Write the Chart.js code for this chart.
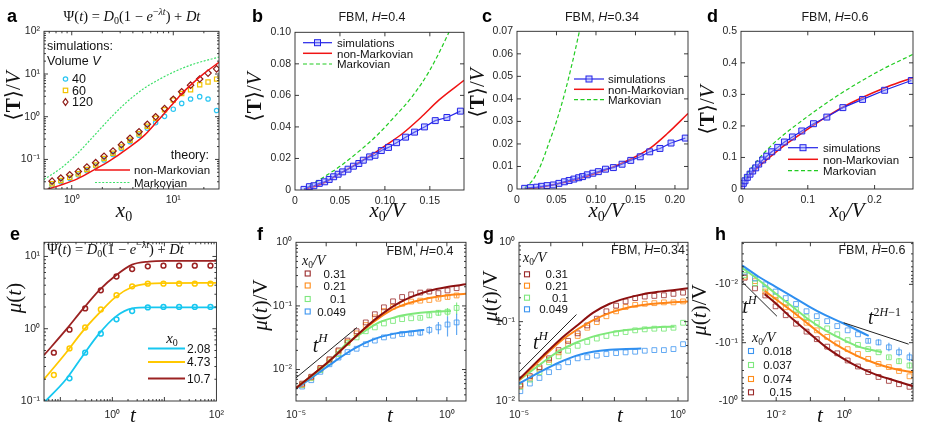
<!DOCTYPE html>
<html lang="en">
<head>
<meta charset="UTF-8">
<title>Mean first-passage time and mu(t) panels</title>
<script src="https://cdn.jsdelivr.net/npm/chart.js"></script>
<style>
  body { margin: 0; background: #fff; }
  #fig { position: relative; width: 926px; height: 430px; overflow: hidden; }
  #fig canvas { position: absolute; }
  #overlay { position: absolute; left: 0; top: 0; pointer-events: none; }
  .sans { font-family: 'Liberation Sans', Arial, sans-serif; }
  .ser { font-family: 'Liberation Serif', 'DejaVu Serif', serif; }
</style>
</head>
<body>
<div id="fig">
  <canvas id="pa"></canvas>
  <canvas id="pb"></canvas>
  <canvas id="pc"></canvas>
  <canvas id="pd"></canvas>
  <canvas id="pe"></canvas>
  <canvas id="pf"></canvas>
  <canvas id="pg"></canvas>
  <canvas id="ph"></canvas>

  <svg id="overlay" width="926" height="430" viewBox="0 0 926 430">
    <!-- panel letters -->
    <g class="sans" font-weight="bold" font-size="18" fill="#000">
      <text x="7" y="21.5">a</text>
      <text x="252" y="21.5">b</text>
      <text x="482" y="21.5">c</text>
      <text x="707" y="21.5">d</text>
      <text x="10" y="240">e</text>
      <text x="257" y="240">f</text>
      <text x="483" y="240">g</text>
      <text x="715" y="240">h</text>
    </g>

    <!-- titles -->
    <g class="sans" font-size="12.5" fill="#1a1a1a" text-anchor="middle">
      <text x="372" y="21">FBM, <tspan font-style="italic">H</tspan>=0.4</text>
      <text x="602" y="21">FBM, <tspan font-style="italic">H</tspan>=0.34</text>
      <text x="835" y="21">FBM, <tspan font-style="italic">H</tspan>=0.6</text>
      <text x="420" y="255">FBM, <tspan font-style="italic">H</tspan>=0.4</text>
      <text x="648" y="254">FBM, <tspan font-style="italic">H</tspan>=0.34</text>
      <text x="872" y="254">FBM, <tspan font-style="italic">H</tspan>=0.6</text>
    </g>
    <text class="ser" font-size="14.5" fill="#111" x="132" y="20.5" text-anchor="middle">Ψ(<tspan font-style="italic">t</tspan>) = <tspan font-style="italic">D</tspan><tspan font-size="10" dy="3">0</tspan><tspan dy="-3">(1 − </tspan><tspan font-style="italic">e</tspan><tspan font-size="10" dy="-6">−<tspan font-style="italic">λt</tspan></tspan><tspan dy="6">) + </tspan><tspan font-style="italic">Dt</tspan></text>
    <text class="ser" font-size="14.5" fill="#111" x="47" y="253.5">Ψ(<tspan font-style="italic">t</tspan>) = <tspan font-style="italic">D</tspan><tspan font-size="10" dy="3">0</tspan><tspan dy="-3">(1 − </tspan><tspan font-style="italic">e</tspan><tspan font-size="10" dy="-6">−<tspan font-style="italic">λt</tspan></tspan><tspan dy="6">) + </tspan><tspan font-style="italic">Dt</tspan></text>

    <!-- axis titles -->
    <g class="ser" font-size="21" fill="#111" text-anchor="middle">
      <text transform="translate(20,96) rotate(-90)">⟨<tspan font-weight="bold">T</tspan>⟩/<tspan font-style="italic">V</tspan></text>
      <text transform="translate(261,97) rotate(-90)">⟨<tspan font-weight="bold">T</tspan>⟩/<tspan font-style="italic">V</tspan></text>
      <text transform="translate(484,93) rotate(-90)">⟨<tspan font-weight="bold">T</tspan>⟩/<tspan font-style="italic">V</tspan></text>
      <text transform="translate(714,110) rotate(-90)">⟨<tspan font-weight="bold">T</tspan>⟩/<tspan font-style="italic">V</tspan></text>
      <text transform="translate(21,298) rotate(-90)"><tspan font-style="italic">μ</tspan>(<tspan font-style="italic">t</tspan>)</text>
      <text transform="translate(267,305) rotate(-90)"><tspan font-style="italic">μ</tspan>(<tspan font-style="italic">t</tspan>)/V</text>
      <text transform="translate(497,296) rotate(-90)"><tspan font-style="italic">μ</tspan>(<tspan font-style="italic">t</tspan>)/V</text>
      <text transform="translate(706,310) rotate(-90)"><tspan font-style="italic">μ</tspan>(<tspan font-style="italic">t</tspan>)/V</text>
      <text x="124" y="217"><tspan font-style="italic">x</tspan><tspan font-size="14" dy="4">0</tspan></text>
      <text x="387" y="217"><tspan font-style="italic">x</tspan><tspan font-size="14" dy="4">0</tspan><tspan dy="-4" font-style="italic">/V</tspan></text>
      <text x="606" y="217"><tspan font-style="italic">x</tspan><tspan font-size="14" dy="4">0</tspan><tspan dy="-4" font-style="italic">/V</tspan></text>
      <text x="847" y="217"><tspan font-style="italic">x</tspan><tspan font-size="14" dy="4">0</tspan><tspan dy="-4" font-style="italic">/V</tspan></text>
      <text x="133" y="422" font-style="italic">t</text>
      <text x="390" y="422" font-style="italic">t</text>
      <text x="620" y="422" font-style="italic">t</text>
      <text x="820" y="422" font-style="italic">t</text>
    </g>

    <!-- legend a -->
    <g class="sans" font-size="12.5" fill="#111">
      <text x="47" y="50">simulations:</text>
      <text x="47" y="65">Volume <tspan font-style="italic">V</tspan></text>
      <text x="72" y="83">40</text>
      <text x="72" y="94.5">60</text>
      <text x="72" y="106">120</text>
    </g>
    <g class="sans" font-size="11.5" fill="#111">
      <text x="209" y="159" text-anchor="end" font-size="12.5">theory:</text>
      <text x="134" y="174">non-Markovian</text>
      <text x="134" y="186.5">Markovian</text>
    </g>
    <circle cx="65.5" cy="79" r="2.2" fill="none" stroke="#2bc6f2" stroke-width="1.2"/>
    <rect x="63.3" y="88.2" width="4.4" height="4.4" fill="none" stroke="#f2c200" stroke-width="1.2"/>
    <polygon points="65.5,98.6 68,102 65.5,105.4 63,102" fill="none" stroke="#8e1b17" stroke-width="1.2"/>
    <line x1="95" y1="170" x2="130" y2="170" stroke="#f01414" stroke-width="1.5"/>
    <line x1="95" y1="182.5" x2="130" y2="182.5" stroke="#3ee06a" stroke-width="1.2" stroke-dasharray="2 1.6"/>

    <!-- legends b, c, d -->
    <g class="sans" font-size="11.5" fill="#111">
      <text x="337" y="47">simulations</text>
      <text x="337" y="57.5">non-Markovian</text>
      <text x="337" y="68">Markovian</text>
      <text x="608" y="83.3">simulations</text>
      <text x="608" y="93.6">non-Markovian</text>
      <text x="608" y="104">Markovian</text>
      <text x="823" y="152">simulations</text>
      <text x="823" y="163.6">non-Markovian</text>
      <text x="823" y="175">Markovian</text>
    </g>
    <g fill="none">
      <line x1="303" y1="42.7" x2="332" y2="42.7" stroke="#2323e8" stroke-width="1.2"/>
      <rect x="314.5" y="39.7" width="6" height="6" fill="rgba(150,160,255,0.45)" stroke="#2323e8"/>
      <line x1="303" y1="53.3" x2="332" y2="53.3" stroke="#f01414" stroke-width="1.5"/>
      <line x1="303" y1="64" x2="332" y2="64" stroke="#22cc22" stroke-width="1.2" stroke-dasharray="4 2.5"/>
      <line x1="574" y1="79" x2="604" y2="79" stroke="#2323e8" stroke-width="1.2"/>
      <rect x="586" y="76" width="6" height="6" fill="rgba(150,160,255,0.45)" stroke="#2323e8"/>
      <line x1="574" y1="89.3" x2="604" y2="89.3" stroke="#f01414" stroke-width="1.5"/>
      <line x1="574" y1="99.7" x2="604" y2="99.7" stroke="#22cc22" stroke-width="1.2" stroke-dasharray="4 2.5"/>
      <line x1="788" y1="147.7" x2="818" y2="147.7" stroke="#2323e8" stroke-width="1.2"/>
      <rect x="800" y="144.7" width="6" height="6" fill="rgba(150,160,255,0.45)" stroke="#2323e8"/>
      <line x1="788" y1="159.3" x2="818" y2="159.3" stroke="#f01414" stroke-width="1.5"/>
      <line x1="788" y1="170.7" x2="818" y2="170.7" stroke="#22cc22" stroke-width="1.2" stroke-dasharray="4 2.5"/>
    </g>

    <!-- legend e -->
    <text class="ser" font-size="15" fill="#111" x="172" y="343" text-anchor="middle"><tspan font-style="italic">x</tspan><tspan font-size="10" dy="3">0</tspan></text>
    <line x1="148" y1="348.5" x2="185" y2="348.5" stroke="#17c7f0" stroke-width="1.8"/>
    <line x1="148" y1="362" x2="185" y2="362" stroke="#ffc800" stroke-width="1.8"/>
    <line x1="148" y1="378.5" x2="185" y2="378.5" stroke="#9b2222" stroke-width="1.8"/>
    <g class="sans" font-size="12" fill="#111">
      <text x="187" y="352.5">2.08</text>
      <text x="187" y="366">4.73</text>
      <text x="187" y="382.5">10.7</text>
    </g>

    <!-- legends f, g, h -->
    <g class="ser" font-size="14" fill="#111">
      <text x="302" y="265"><tspan font-style="italic">x</tspan><tspan font-size="9.5" dy="2.5">0</tspan><tspan dy="-2.5" font-style="italic">/V</tspan></text>
      <text x="523" y="262"><tspan font-style="italic">x</tspan><tspan font-size="9.5" dy="2.5">0</tspan><tspan dy="-2.5" font-style="italic">/V</tspan></text>
      <text x="752" y="342"><tspan font-style="italic">x</tspan><tspan font-size="9.5" dy="2.5">0</tspan><tspan dy="-2.5" font-style="italic">/V</tspan></text>
    </g>
    <g fill="none" stroke-width="1.1">
      <rect x="305.2" y="271" width="5" height="5" stroke="#9a2a2a"/>
      <rect x="305.2" y="283" width="5" height="5" stroke="#ff8c1a"/>
      <rect x="305.2" y="296.5" width="5" height="5" stroke="#7ee87e"/>
      <rect x="305.2" y="309" width="5" height="5" stroke="#3d95f0"/>
      <rect x="524.5" y="271.8" width="5" height="5" stroke="#9a2a2a"/>
      <rect x="524.5" y="283.2" width="5" height="5" stroke="#ff8c1a"/>
      <rect x="524.5" y="295.2" width="5" height="5" stroke="#7ee87e"/>
      <rect x="524.5" y="306.8" width="5" height="5" stroke="#3d95f0"/>
      <rect x="748.5" y="348.5" width="5" height="5" stroke="#3d95f0"/>
      <rect x="748.5" y="362.5" width="5" height="5" stroke="#7ee87e"/>
      <rect x="748.5" y="376.5" width="5" height="5" stroke="#ff8c1a"/>
      <rect x="748.5" y="389.8" width="5" height="5" stroke="#9a2a2a"/>
    </g>
    <g class="sans" font-size="11.5" fill="#111" text-anchor="end">
      <text x="346" y="277.5">0.31</text>
      <text x="346" y="289.5">0.21</text>
      <text x="346" y="303">0.1</text>
      <text x="346" y="315.5">0.049</text>
      <text x="568" y="278.3">0.31</text>
      <text x="568" y="289.7">0.21</text>
      <text x="568" y="301.7">0.1</text>
      <text x="568" y="313.3">0.049</text>
      <text x="792" y="355">0.018</text>
      <text x="792" y="369">0.037</text>
      <text x="792" y="383">0.074</text>
      <text x="792" y="396.3">0.15</text>
    </g>

    <!-- power-law labels -->
    <g class="ser" font-size="20" fill="#111" font-style="italic">
      <text x="312.7" y="351.7">t<tspan font-size="13" dy="-10">H</tspan></text>
      <text x="533" y="349">t<tspan font-size="13" dy="-9">H</tspan></text>
      <text x="742.5" y="313">t<tspan font-size="12" dy="-9">H</tspan></text>
      <text x="868" y="324">t<tspan font-size="12" dy="-8"><tspan font-style="normal">2</tspan>H<tspan font-style="normal">−1</tspan></tspan></text>
    </g>
  </svg>
</div>

<script>
  // ---------- panel a: <T>/V against x0 (log-log) ----------
  var aX = [0.64, 0.78, 0.955, 1.16, 1.41, 1.72, 2.08, 2.55, 3.08, 3.75, 4.6, 5.55, 6.7, 8.2, 10.0, 12.1, 14.8, 18.2, 22, 26.7];
  var aV40 = [0.025, 0.03, 0.036, 0.043, 0.054, 0.07, 0.097, 0.13, 0.18, 0.26, 0.37, 0.54, 0.72, 1.02, 1.5, 2.05, 2.6, 2.95, 2.6, 1.4];
  var aV60 = [0.027, 0.032, 0.038, 0.046, 0.058, 0.074, 0.105, 0.14, 0.195, 0.28, 0.4, 0.6, 0.92, 1.45, 2.45, 3.5, 4.3, 5.6, 6.5, 7.6];
  var aV120 = [0.031, 0.0367, 0.0438, 0.052, 0.0667, 0.084, 0.119, 0.158, 0.22, 0.313, 0.445, 0.667, 1.0, 1.55, 2.57, 3.85, 5.48, 7.65, 10.5, 13.2];
  var aNonMarkovX = [0.55, 0.6, 0.78, 1.135, 1.66, 2.42, 3.53, 5.15, 6.98, 9.4, 11.8, 14.8, 20, 28.2];
  var aNonMarkov = [0.019, 0.0206, 0.025, 0.035, 0.057, 0.096, 0.179, 0.36, 0.79, 1.75, 3.24, 5.48, 10.2, 18.8];
  var aMarkovX = [0.533, 0.78, 1.135, 1.66, 2.42, 3.53, 5.15, 7.5, 10.9, 16, 28.2];
  var aMarkov = [0.034, 0.062, 0.137, 0.36, 0.95, 2.27, 4.6, 7.8, 12.1, 17.2, 25];

  // ---------- panel b: FBM H=0.4 ----------
  var bX = [0.010, 0.016, 0.021, 0.027, 0.033, 0.038, 0.043, 0.048, 0.053, 0.059, 0.065, 0.071, 0.076, 0.083, 0.089, 0.096, 0.104, 0.113, 0.123, 0.133, 0.144, 0.156, 0.169, 0.184];
  var bSim = [0.0004, 0.0021, 0.0027, 0.0042, 0.0052, 0.0067, 0.0084, 0.010, 0.0115, 0.0132, 0.0151, 0.0168, 0.0189, 0.021, 0.022, 0.025, 0.027, 0.030, 0.0335, 0.0367, 0.040, 0.044, 0.046, 0.050];
  var bTheoryX = [0.01, 0.03, 0.05, 0.07, 0.09, 0.1, 0.12, 0.14, 0.16, 0.188];
  var bNonMarkov = [0.0002, 0.004, 0.0105, 0.017, 0.024, 0.028, 0.036, 0.046, 0.057, 0.0695];
  var bMarkovX = [0.01, 0.03, 0.05, 0.07, 0.09, 0.11, 0.13, 0.15, 0.17, 0.175];
  var bMarkov = [0.0005, 0.0075, 0.015, 0.024, 0.034, 0.046, 0.059, 0.076, 0.0985, 0.105];

  // ---------- panel c: FBM H=0.34 ----------
  var cX = [0.0097, 0.017, 0.025, 0.031, 0.038, 0.046, 0.053, 0.060, 0.066, 0.072, 0.078, 0.083, 0.089, 0.096, 0.103, 0.112, 0.122, 0.133, 0.144, 0.156, 0.168, 0.181, 0.195, 0.213];
  var cSim = [0.0003, 0.0006, 0.0008, 0.0012, 0.0015, 0.0018, 0.0025, 0.0032, 0.0038, 0.0044, 0.005, 0.0055, 0.0063, 0.007, 0.0077, 0.0088, 0.0095, 0.011, 0.0127, 0.0143, 0.0165, 0.018, 0.0204, 0.0226];
  var cTheoryX = [0.01, 0.03, 0.05, 0.07, 0.09, 0.11, 0.13, 0.15, 0.17, 0.19, 0.2165];
  var cNonMarkov = [0.0001, 0.0008, 0.0022, 0.0038, 0.0058, 0.0082, 0.011, 0.0143, 0.0185, 0.0245, 0.0335];
  var cMarkovX = [0.01, 0.02, 0.03, 0.04, 0.05, 0.06, 0.07, 0.079, 0.085];
  var cMarkov = [0.0005, 0.004, 0.0105, 0.02, 0.03, 0.042, 0.056, 0.07, 0.08];

  // ---------- panel d: FBM H=0.6 ----------
  var dX = [0.001, 0.0035, 0.006, 0.0095, 0.0135, 0.0175, 0.022, 0.0265, 0.0325, 0.0385, 0.046, 0.055, 0.065, 0.077, 0.091, 0.1085, 0.1285, 0.1525, 0.182, 0.215, 0.255];
  var dSim = [0.0095, 0.018, 0.026, 0.037, 0.047, 0.057, 0.067, 0.079, 0.092, 0.104, 0.118, 0.132, 0.149, 0.165, 0.184, 0.207, 0.228, 0.258, 0.284, 0.313, 0.344];
  var dTheoryX = [0.001, 0.005, 0.01, 0.02, 0.03, 0.05, 0.07, 0.1, 0.13, 0.16, 0.19, 0.22, 0.2575];
  var dNonMarkov = [0.005, 0.022, 0.036, 0.058, 0.078, 0.113, 0.146, 0.19, 0.232, 0.268, 0.298, 0.325, 0.353];
  var dMarkovX = [0.001, 0.005, 0.0135, 0.0285, 0.0485, 0.0985, 0.149, 0.2085, 0.2575];
  var dMarkov = [0.012, 0.035, 0.06, 0.1, 0.144, 0.228, 0.302, 0.376, 0.427];

  // ---------- panel e: mu(t), exponential kernel ----------
  var eX = [0.075, 0.15, 0.3, 0.6, 1.2, 2.4, 4.8, 9.6, 19.2, 38.4, 76.8];
  var eSim208 = [null, 0.206, 0.466, 0.855, 1.35, 1.76, 1.97, 2.0, 2.0, 2.0, 2.0];
  var eSim473 = [0.229, 0.534, 1.04, 1.85, 2.91, 3.86, 4.2, 4.2, 4.2, 4.2, 4.2];
  var eSim107 = [0.466, 0.97, 1.91, 3.4, 5.28, 6.7, 7.3, 7.45, 7.45, 7.45, 7.45];
  var eLineX = [0.0485, 0.129, 0.268, 0.557, 1.16, 2.4, 5.0, 10.4, 100];
  var eLine208 = [0.095, 0.2, 0.42, 0.855, 1.47, 1.91, 1.97, 1.97, 1.97];
  var eLine473 = [0.2, 0.466, 0.92, 1.64, 2.76, 3.78, 4.2, 4.28, 4.3];
  var eLine107 = [0.43, 0.97, 1.85, 3.4, 5.44, 7.7, 8.5, 8.7, 8.7];

  // ---------- panel f: mu(t)/V, FBM H=0.4 ----------
  var fX = [1.6e-5, 3.2e-5, 6.4e-5, 1.28e-4, 2.56e-4, 5.1e-4, 1.02e-3, 2.05e-3, 4.1e-3, 8.2e-3, 0.0164, 0.0328, 0.0655, 0.131, 0.262, 0.524, 1.05, 2.1];
  var fSim031 = [0.006, 0.0077, 0.0106, 0.0145, 0.02, 0.0285, 0.04, 0.055, 0.074, 0.095, 0.118, 0.138, 0.152, 0.162, 0.168, 0.159, 0.175, 0.19];
  var fSim021 = [0.0058, 0.0075, 0.0103, 0.014, 0.0193, 0.027, 0.037, 0.05, 0.066, 0.083, 0.097, 0.108, 0.117, 0.121, 0.124, 0.13, 0.138, 0.146];
  var fSim010 = [0.0057, 0.0073, 0.0098, 0.013, 0.0175, 0.026, 0.032, 0.04, 0.046, 0.053, 0.058, 0.062, 0.064, 0.065, 0.071, 0.078, 0.081, 0.093];
  var fSim049 = [0.0054, 0.0068, 0.0092, 0.0121, 0.0154, 0.0188, 0.0212, 0.025, 0.0285, 0.032, 0.034, 0.036, 0.037, 0.038, 0.042, 0.046, 0.051, 0.055];
  var fErr021 = [0, 0, 0, 0, 0, 0, 0, 0, 0, 0, 0, 0, 0, 0, 0, 0.006, 0.01, 0.01];
  var fErr010 = [0, 0, 0, 0, 0, 0, 0, 0, 0, 0, 0, 0, 0, 0.004, 0.006, 0.008, 0.012, 0.02];
  var fErr049 = [0, 0, 0, 0, 0, 0, 0, 0, 0, 0, 0, 0.002, 0.003, 0.004, 0.006, 0.01, 0.018, 0.02];
  var fLineX = [1e-5, 1.27e-4, 1.61e-3, 5.7e-3, 0.0205, 0.073, 0.26, 0.93, 4.5];
  var fLine031 = [0.0051, 0.0136, 0.0416, 0.069, 0.105, 0.141, 0.173, 0.197, 0.219];
  var fLine021 = [0.0051, 0.0136, 0.041, 0.065, 0.093, 0.115, 0.133, 0.146, 0.155];
  var fLine010X = [1e-5, 1.27e-4, 4.5e-4, 1.61e-3, 5.7e-3, 0.0205, 0.073, 0.26, 1.36];
  var fLine010 = [0.0051, 0.0134, 0.025, 0.038, 0.055, 0.067, 0.075, 0.08, 0.083];
  var fLine049X = [1e-5, 1.27e-4, 4.5e-4, 1.61e-3, 5.7e-3, 0.0205, 0.073, 0.178];
  var fLine049 = [0.005, 0.0117, 0.0177, 0.025, 0.032, 0.037, 0.040, 0.042];
  var fGuideX = [1e-5, 1.05e-3];
  var fGuide = [0.0074, 0.0458];

  // ---------- panel g: mu(t)/V, FBM H=0.34 ----------
  var gX = [1.1e-5, 2.2e-5, 4.4e-5, 8.8e-5, 1.76e-4, 3.5e-4, 7e-4, 1.4e-3, 2.8e-3, 5.6e-3, 0.0113, 0.0225, 0.045, 0.09, 0.18, 0.36, 0.72, 1.44];
  var gSim031 = [0.0161, 0.0206, 0.0267, 0.0345, 0.0438, 0.0573, 0.0713, 0.0896, 0.109, 0.135, 0.159, 0.18, 0.198, 0.207, 0.211, 0.215, 0.224, 0.232];
  var gSim021 = [0.0155, 0.0197, 0.0255, 0.033, 0.041, 0.052, 0.066, 0.0838, 0.0986, 0.117, 0.135, 0.153, 0.163, 0.168, 0.171, 0.175, 0.175, 0.18];
  var gSim010 = [0.0151, 0.0186, 0.0231, 0.0308, 0.0366, 0.043, 0.0496, 0.0556, 0.0612, 0.066, 0.0713, 0.074, 0.0777, 0.08, 0.0815, 0.0815, 0.0838, 0.0968];
  var gSim049 = [0.0133, 0.0166, 0.0195, 0.0231, 0.0267, 0.0308, 0.0345, 0.0356, 0.0373, 0.0391, 0.0402, 0.041, 0.0418, 0.043, 0.0438, 0.0438, 0.0451, 0.052];
  var gLineX = [1e-5, 5.7e-5, 1.9e-4, 6.4e-4, 2.1e-3, 7.1e-3, 0.0237, 0.079, 0.265, 2.06];
  var gLine031 = [0.0188, 0.0373, 0.0589, 0.088, 0.129, 0.168, 0.198, 0.222, 0.239, 0.263];
  var gLine021 = [0.0182, 0.0356, 0.0556, 0.0784, 0.104, 0.129, 0.149, 0.162, 0.171, 0.18];
  var gLine010X = [1e-5, 5.7e-5, 1.9e-4, 6.4e-4, 2.1e-3, 7.1e-3, 0.0237, 0.079, 0.265, 0.785];
  var gLine010 = [0.0182, 0.0308, 0.043, 0.0546, 0.0648, 0.0727, 0.0784, 0.0822, 0.0855, 0.0864];
  var gLine049X = [1e-5, 5.7e-5, 1.9e-4, 6.4e-4, 2.1e-3, 7.1e-3, 0.0237, 0.0703];
  var gLine049 = [0.0166, 0.0243, 0.0308, 0.0373, 0.0418, 0.0442, 0.0451, 0.046];
  var gGuideX = [1e-5, 6.4e-4];
  var gGuide = [0.0231, 0.123];

  // ---------- panel h: mu(t)/V, FBM H=0.6 (negative values) ----------
  var hX = [1.2e-3, 2.4e-3, 4.8e-3, 9.6e-3, 0.019, 0.038, 0.077, 0.154, 0.31, 0.61, 1.23, 2.46, 4.9, 9.8, 19.7, 39, 79];
  var hSim018 = [-0.0061, -0.0079, -0.01, -0.0133, -0.0172, -0.0217, -0.0289, -0.0351, -0.0427, -0.0519, -0.0614, -0.0718, -0.093, -0.099, -0.12, -0.146, -0.178];
  var hSim037 = [-0.0069, -0.0096, -0.0117, -0.0161, -0.0209, -0.0271, -0.0365, -0.0455, -0.0568, -0.0717, -0.0905, -0.109, -0.129, -0.146, -0.178, -0.208, -0.246];
  var hSim074 = [-0.0074, -0.0088, -0.0133, -0.0184, -0.0247, -0.0338, -0.0455, -0.0614, -0.0795, -0.103, -0.129, -0.156, -0.19, -0.231, -0.262, -0.306, -0.377];
  var hSim15 = [-0.0077, -0.0117, -0.0155, -0.0238, -0.0338, -0.0473, -0.0646, -0.0871, -0.117, -0.152, -0.202, -0.256, -0.319, -0.387, -0.452, -0.515, -0.571];
  var hErr018 = [0, 0, 0, 0, 0, 0, 0, 0, 0, 0, 0, 0, 0.008, 0.012, 0.02, 0.025, 0.03];
  var hErr037 = [0, 0, 0, 0, 0, 0, 0, 0, 0, 0, 0, 0, 0, 0, 0.012, 0.025, 0.03];
  var hLine018X = [1e-3, 3.07e-3, 9.4e-3, 0.029, 0.089, 0.273, 0.84, 5.06];
  var hLine018 = [-0.0047, -0.0074, -0.0109, -0.0161, -0.0238, -0.0338, -0.0455, -0.0766];
  var hLine037X = [1e-3, 3.07e-3, 9.4e-3, 0.029, 0.089, 0.273, 0.84, 2.58, 12.4];
  var hLine037 = [-0.0052, -0.0084, -0.0142, -0.0238, -0.04, -0.0614, -0.0871, -0.117, -0.146];
  var hLineLateX = [4.6e-3, 9.4e-3, 0.029, 0.089, 0.273, 0.84, 2.58, 7.9, 27.2, 100];
  var hLine074 = [-0.0129, -0.0177, -0.0289, -0.0486, -0.0816, -0.124, -0.173, -0.225, -0.28, -0.322];
  var hLine15 = [-0.0147, -0.0209, -0.0385, -0.0672, -0.117, -0.182, -0.262, -0.349, -0.441, -0.56];
  var hGuideEarlyX = [1e-3, 0.0105];
  var hGuideEarly = [-0.009, -0.0352];
  var hGuideLateX = [0.94, 74.6];
  var hGuideLate = [-0.0455, -0.106];

  // ---------- shared look ----------
  var INK = '#262626';
  var TICK_FONT = {family: "'Liberation Sans', Arial, sans-serif", size: 10.5};
  var PAD = {l: 40, t: 8, r: 14, b: 24};
  var RED = '#f01414', BLUE = '#2323e8', GREEN_D = '#22cc22';
  var C_BROWN = '#8c1010', C_ORANGE = '#ff8516', C_GREEN = '#7fe87a', C_BLUE = '#2f8ff0';

  var SUP = {'-': '⁻', '0': '⁰', '1': '¹', '2': '²', '3': '³', '4': '⁴', '5': '⁵', '6': '⁶', '7': '⁷', '8': '⁸', '9': '⁹'};
  function pow10(e) {
    return '10' + String(e).split('').map(function (c) { return SUP[c]; }).join('');
  }

  function logTicks(min, max, minor) {
    var out = [];
    for (var e = Math.floor(Math.log10(min)); e <= Math.ceil(Math.log10(max)); e++) {
      for (var k = 1; k <= (minor ? 9 : 1); k++) {
        var v = k * Math.pow(10, e);
        if (v >= min * 0.9999 && v <= max * 1.0001) out.push({value: v, major: k === 1});
      }
    }
    return out;
  }

  function fitTo(isX) {
    return function (s) { if (isX) s.height = PAD.b; else s.width = PAD.l; };
  }

  // gap between axis line and tick labels: x labels in the lower row sit a bit lower
  function gap(isX, lowRow) { return isX ? (lowRow ? 8 : 5) : 4; }

  function logAxis(isX, min, max, labelled, minor, neg, reverse, lowRow) {
    return {
      type: 'logarithmic', min: min, max: max, reverse: !!reverse,
      grid: {display: false, drawTicks: false}, border: {display: false},
      afterBuildTicks: function (s) { s.ticks = logTicks(min, max, minor); },
      afterFit: fitTo(isX),
      ticks: {
        autoSkip: false, maxRotation: 0, padding: gap(isX, lowRow), color: INK, font: TICK_FONT,
        callback: function (v) {
          var e = Math.round(Math.log10(v));
          if (Math.abs(v / Math.pow(10, e) - 1) > 1e-6 || labelled.indexOf(e) < 0) return '';
          return (neg ? '-' : '') + pow10(e);
        }
      }
    };
  }

  function linAxis(isX, min, max, step) {
    return {
      type: 'linear', min: min, max: max,
      grid: {display: false, drawTicks: false}, border: {display: false},
      afterFit: fitTo(isX),
      ticks: {stepSize: step, includeBounds: false, autoSkip: false, maxRotation: 0,
              padding: gap(isX, false), color: INK, font: TICK_FONT}
    };
  }

  // box around the plot with inward ticks on all four sides (MATLAB style), plus error bars
  var frame = {
    id: 'frame',
    afterDatasetsDraw: function (chart) {
      var ctx = chart.ctx, a = chart.chartArea, sx = chart.scales.x, sy = chart.scales.y;
      ctx.save();
      chart.data.datasets.forEach(function (ds) {
        if (!ds.errors) return;
        ctx.strokeStyle = ds.borderColor;
        ctx.lineWidth = 1.2;
        ctx.beginPath();
        ds.data.forEach(function (p, j) {
          var e = ds.errors[j];
          if (!e) return;
          var px = sx.getPixelForValue(p.x);
          ctx.moveTo(px, sy.getPixelForValue(p.y - e));
          ctx.lineTo(px, sy.getPixelForValue(p.y + e));
        });
        ctx.stroke();
      });
      ctx.strokeStyle = INK;
      ctx.lineWidth = 0.9;
      ctx.strokeRect(a.left, a.top, a.right - a.left, a.bottom - a.top);
      ctx.beginPath();
      sx.ticks.forEach(function (t) {
        var p = sx.getPixelForValue(t.value), len = t.major === false ? 2 : 4;
        if (p <= a.left + 0.5 || p >= a.right - 0.5) return;
        ctx.moveTo(p, a.bottom); ctx.lineTo(p, a.bottom - len);
        ctx.moveTo(p, a.top); ctx.lineTo(p, a.top + len);
      });
      sy.ticks.forEach(function (t) {
        var p = sy.getPixelForValue(t.value), len = t.major === false ? 2 : 4;
        if (p <= a.top + 0.5 || p >= a.bottom - 0.5) return;
        ctx.moveTo(a.left, p); ctx.lineTo(a.left + len, p);
        ctx.moveTo(a.right, p); ctx.lineTo(a.right - len, p);
      });
      ctx.stroke();
      ctx.restore();
    }
  };

  function xy(xs, ys, flip) {
    return xs.map(function (x, i) { return {x: x, y: (flip && ys[i] != null) ? -ys[i] : ys[i]}; });
  }
  function curve(xs, ys, color, width, dash, flip) {
    return {data: xy(xs, ys, flip), borderColor: color, borderWidth: width, borderDash: dash || [],
            pointRadius: 0, fill: false, cubicInterpolationMode: 'monotone'};
  }
  function guide(xs, ys, flip) {
    return {data: xy(xs, ys, flip), borderColor: '#222', borderWidth: 1, pointRadius: 0, fill: false};
  }
  function marks(xs, ys, color, style, r, width, fillColor, flip, errors) {
    return {data: xy(xs, ys, flip), showLine: false, borderColor: color, backgroundColor: fillColor || 'rgba(0,0,0,0)',
            pointStyle: style, pointRadius: r, pointBorderWidth: width, pointBorderColor: color,
            pointBackgroundColor: fillColor || 'rgba(0,0,0,0)', errors: errors || null};
  }

  function panel(id, box, xAxis, yAxis, datasets) {
    var cv = document.getElementById(id);
    var w = box[2] - box[0] + PAD.l + PAD.r, h = box[3] - box[1] + PAD.t + PAD.b;
    cv.style.left = (box[0] - PAD.l) + 'px';
    cv.style.top = (box[1] - PAD.t) + 'px';
    cv.width = w; cv.height = h;
    cv.style.width = w + 'px'; cv.style.height = h + 'px';
    return new Chart(cv, {
      type: 'line',
      data: {datasets: datasets},
      options: {
        responsive: false, animation: false,
        layout: {padding: {top: PAD.t, right: PAD.r, left: 0, bottom: 0}},
        plugins: {legend: {display: false}, tooltip: {enabled: false}},
        scales: {x: xAxis, y: yAxis}
      },
      plugins: [frame]
    });
  }

  // a
  panel('pa', [44, 29, 219, 189],
    logAxis(true, 0.533, 28.2, [0, 1], true),
    logAxis(false, 0.0203, 100, [-1, 0, 1, 2], true),
    [
      curve(aNonMarkovX, aNonMarkov, RED, 1.5),
      curve(aMarkovX, aMarkov, '#3ee06a', 1.2, [2, 1.6]),
      marks(aX, aV120, '#8e1b17', 'rectRot', 3.2, 1.2),
      marks(aX, aV60, '#f2c200', 'rect', 3, 1.2),
      marks(aX, aV40, '#2bc6f2', 'circle', 2.2, 1.2)
    ]);

  // b
  panel('pb', [295, 30, 464, 190],
    linAxis(true, 0, 0.188, 0.05),
    linAxis(false, 0, 0.1, 0.02),
    [
      Object.assign(marks(bX, bSim, BLUE, 'rect', 4.2, 1, 'rgba(150,160,255,0.45)'), {showLine: true, borderWidth: 1.2}),
      curve(bTheoryX, bNonMarkov, RED, 1.5),
      curve(bMarkovX, bMarkov, GREEN_D, 1.2, [4, 2.5])
    ]);

  // c
  panel('pc', [517, 29, 688, 189],
    linAxis(true, 0, 0.2165, 0.05),
    linAxis(false, 0, 0.07, 0.01),
    [
      Object.assign(marks(cX, cSim, BLUE, 'rect', 4.2, 1, 'rgba(150,160,255,0.45)'), {showLine: true, borderWidth: 1.2}),
      curve(cTheoryX, cNonMarkov, RED, 1.5),
      curve(cMarkovX, cMarkov, GREEN_D, 1.2, [4, 2.5])
    ]);

  // d
  panel('pd', [741, 29, 913, 189],
    linAxis(true, 0, 0.2575, 0.1),
    linAxis(false, 0, 0.5, 0.1),
    [
      Object.assign(marks(dX, dSim, BLUE, 'rect', 4.2, 1, 'rgba(150,160,255,0.45)'), {showLine: true, borderWidth: 1.2}),
      curve(dTheoryX, dNonMarkov, RED, 1.5),
      curve(dMarkovX, dMarkov, GREEN_D, 1.2, [4, 2.5])
    ]);

  // e
  panel('pe', [44, 240, 218, 401],
    logAxis(true, 0.0485, 100, [0, 2], true, false, false, true),
    logAxis(false, 0.1, 15.7, [-1, 0, 1], true),
    [
      curve(eLineX, eLine107, '#9b2222', 1.8),
      curve(eLineX, eLine473, '#ffc800', 1.8),
      curve(eLineX, eLine208, '#17c7f0', 1.8),
      marks(eX, eSim107, '#9b2222', 'circle', 2.4, 1.5),
      marks(eX, eSim473, '#ffc800', 'circle', 2.4, 1.5),
      marks(eX, eSim208, '#17c7f0', 'circle', 2.4, 1.5)
    ]);

  // f
  panel('pf', [296, 240, 466, 401],
    logAxis(true, 1e-5, 4.3, [-5, 0], false, false, false, true),
    logAxis(false, 0.0032, 1, [-2, -1, 0], true),
    [
      guide(fGuideX, fGuide),
      curve(fLineX, fLine031, C_BROWN, 2),
      curve(fLineX, fLine021, C_ORANGE, 2),
      curve(fLine010X, fLine010, C_GREEN, 2),
      curve(fLine049X, fLine049, C_BLUE, 2),
      marks(fX, fSim031, 'rgba(154,42,42,0.8)', 'rect', 3.4, 1),
      marks(fX, fSim021, 'rgba(255,140,26,0.8)', 'rect', 3.4, 1, null, false, fErr021),
      marks(fX, fSim010, 'rgba(110,230,110,0.8)', 'rect', 3.4, 1, null, false, fErr010),
      marks(fX, fSim049, 'rgba(61,149,240,0.8)', 'rect', 3.4, 1, null, false, fErr049)
    ]);

  // g
  panel('pg', [519, 240, 688, 401],
    logAxis(true, 1e-5, 2.06, [-5, 0], false, false, false, true),
    logAxis(false, 0.01, 1, [-2, -1, 0], true),
    [
      guide(gGuideX, gGuide),
      curve(gLineX, gLine031, C_BROWN, 2),
      curve(gLineX, gLine021, C_ORANGE, 2),
      curve(gLine010X, gLine010, C_GREEN, 2),
      curve(gLine049X, gLine049, C_BLUE, 2),
      marks(gX, gSim031, 'rgba(154,42,42,0.8)', 'rect', 3.4, 1),
      marks(gX, gSim021, 'rgba(255,140,26,0.8)', 'rect', 3.4, 1),
      marks(gX, gSim010, 'rgba(110,230,110,0.8)', 'rect', 3.4, 1),
      marks(gX, gSim049, 'rgba(61,149,240,0.8)', 'rect', 3.4, 1)
    ]);

  // h: magnitudes on a reversed log axis, labelled as negative powers of ten
  panel('ph', [742, 240, 913, 401],
    logAxis(true, 1e-3, 100, [-2, 0], false, false, false, true),
    logAxis(false, 0.0019, 1, [-2, -1, 0], true, true, true),
    [
      guide(hGuideEarlyX, hGuideEarly, true),
      guide(hGuideLateX, hGuideLate, true),
      curve(hLine018X, hLine018, C_BLUE, 2, null, true),
      curve(hLine037X, hLine037, C_GREEN, 2, null, true),
      curve(hLineLateX, hLine074, C_ORANGE, 2, null, true),
      curve(hLineLateX, hLine15, C_BROWN, 2, null, true),
      marks(hX, hSim018, 'rgba(61,149,240,0.8)', 'rect', 3.4, 1, null, true, hErr018),
      marks(hX, hSim037, 'rgba(110,230,110,0.8)', 'rect', 3.4, 1, null, true, hErr037),
      marks(hX, hSim074, 'rgba(255,140,26,0.8)', 'rect', 3.4, 1, null, true),
      marks(hX, hSim15, 'rgba(154,42,42,0.8)', 'rect', 3.4, 1, null, true)
    ]);
</script>
</body>
</html>
